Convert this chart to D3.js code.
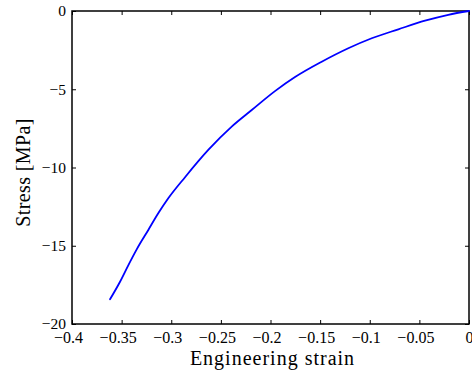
<!DOCTYPE html>
<html>
<head>
<meta charset="utf-8">
<script src="https://cdn.jsdelivr.net/npm/d3@7"></script>
<style>
html,body{margin:0;padding:0;background:#fff;}
svg{display:block;}
text{font-family:"Liberation Serif","Times New Roman",serif;fill:#000;}
</style>
</head>
<body>
<svg id="chart" width="472" height="375"></svg>
<script>
// Data
const strain = [-0.3617, -0.3516, -0.3433, -0.3348, -0.3231, -0.3131, -0.3030, -0.2861, -0.2627, -0.2391, -0.2189, -0.1955, -0.1753, -0.1484, -0.1216, -0.0980, -0.0712, -0.0443, -0.0209, 0];
const stress = [-18.42, -17.30, -16.25, -15.23, -13.99, -12.93, -11.97, -10.62, -8.88, -7.39, -6.33, -5.12, -4.22, -3.24, -2.38, -1.74, -1.17, -0.62, -0.24, 0];
const xTicks = [-0.4, -0.35, -0.3, -0.25, -0.2, -0.15, -0.1, -0.05, 0];
const yTicks = [-20, -15, -10, -5, 0];
const xLabel = "Engineering strain";
const yLabel = "Stress [MPa]";

const svg = d3.select("#chart");
const L = 72, R = 469, T = 11, B = 324;
const x = d3.scaleLinear().domain([-0.4, 0]).range([L, R]);
const y = d3.scaleLinear().domain([-20, 0]).range([B, T]);

const fmt = v => (v < 0 ? "\u2212" : "") + String(Math.abs(v));

// x axis bottom
const gx = svg.append("g").attr("transform", `translate(0,${B})`)
  .call(d3.axisBottom(x).tickValues(xTicks).tickSize(-4).tickPadding(8).tickFormat(fmt));
gx.selectAll("text").attr("font-size", 16).attr("dx", d => d < 0 ? -4 : 0);
// x axis top
svg.append("g").attr("transform", `translate(0,${T})`)
  .call(d3.axisTop(x).tickValues(xTicks).tickSize(-4).tickFormat(""));
// y axis left
const gy = svg.append("g").attr("transform", `translate(${L},0)`)
  .call(d3.axisLeft(y).tickValues(yTicks).tickSize(-4).tickPadding(6).tickFormat(fmt));
gy.selectAll("text").attr("font-size", 15.5);
// y axis right
svg.append("g").attr("transform", `translate(${R},0)`)
  .call(d3.axisRight(y).tickValues(yTicks).tickSize(-4).tickFormat(""));

svg.selectAll(".domain").remove();
svg.selectAll(".tick line").attr("stroke", "#000").attr("stroke-width", 1);
svg.selectAll("text").attr("font-family", "Liberation Serif");

// box
svg.append("rect").attr("x", L).attr("y", T).attr("width", R - L).attr("height", B - T)
  .attr("fill", "none").attr("stroke", "#000").attr("stroke-width", 1.5);

// curve
const pts = strain.map((s, i) => [s, stress[i]]);
svg.append("path").datum(pts)
  .attr("d", d3.line().curve(d3.curveMonotoneX).x(d => x(d[0])).y(d => y(d[1])))
  .attr("fill", "none").attr("stroke", "#0000ff").attr("stroke-width", 1.8)
  .attr("stroke-linejoin", "round").attr("stroke-linecap", "round");

// labels
svg.append("text").attr("x", 272.5).attr("y", 365).attr("text-anchor", "middle")
  .attr("font-size", 20).attr("letter-spacing", 1).attr("font-family", "Liberation Serif").text(xLabel);
svg.append("text").attr("transform", `translate(30,172.5) rotate(-90)`)
  .attr("text-anchor", "middle").attr("font-size", 20).attr("letter-spacing", 0.4)
  .attr("font-family", "Liberation Serif").text(yLabel);
</script>
</body>
</html>
